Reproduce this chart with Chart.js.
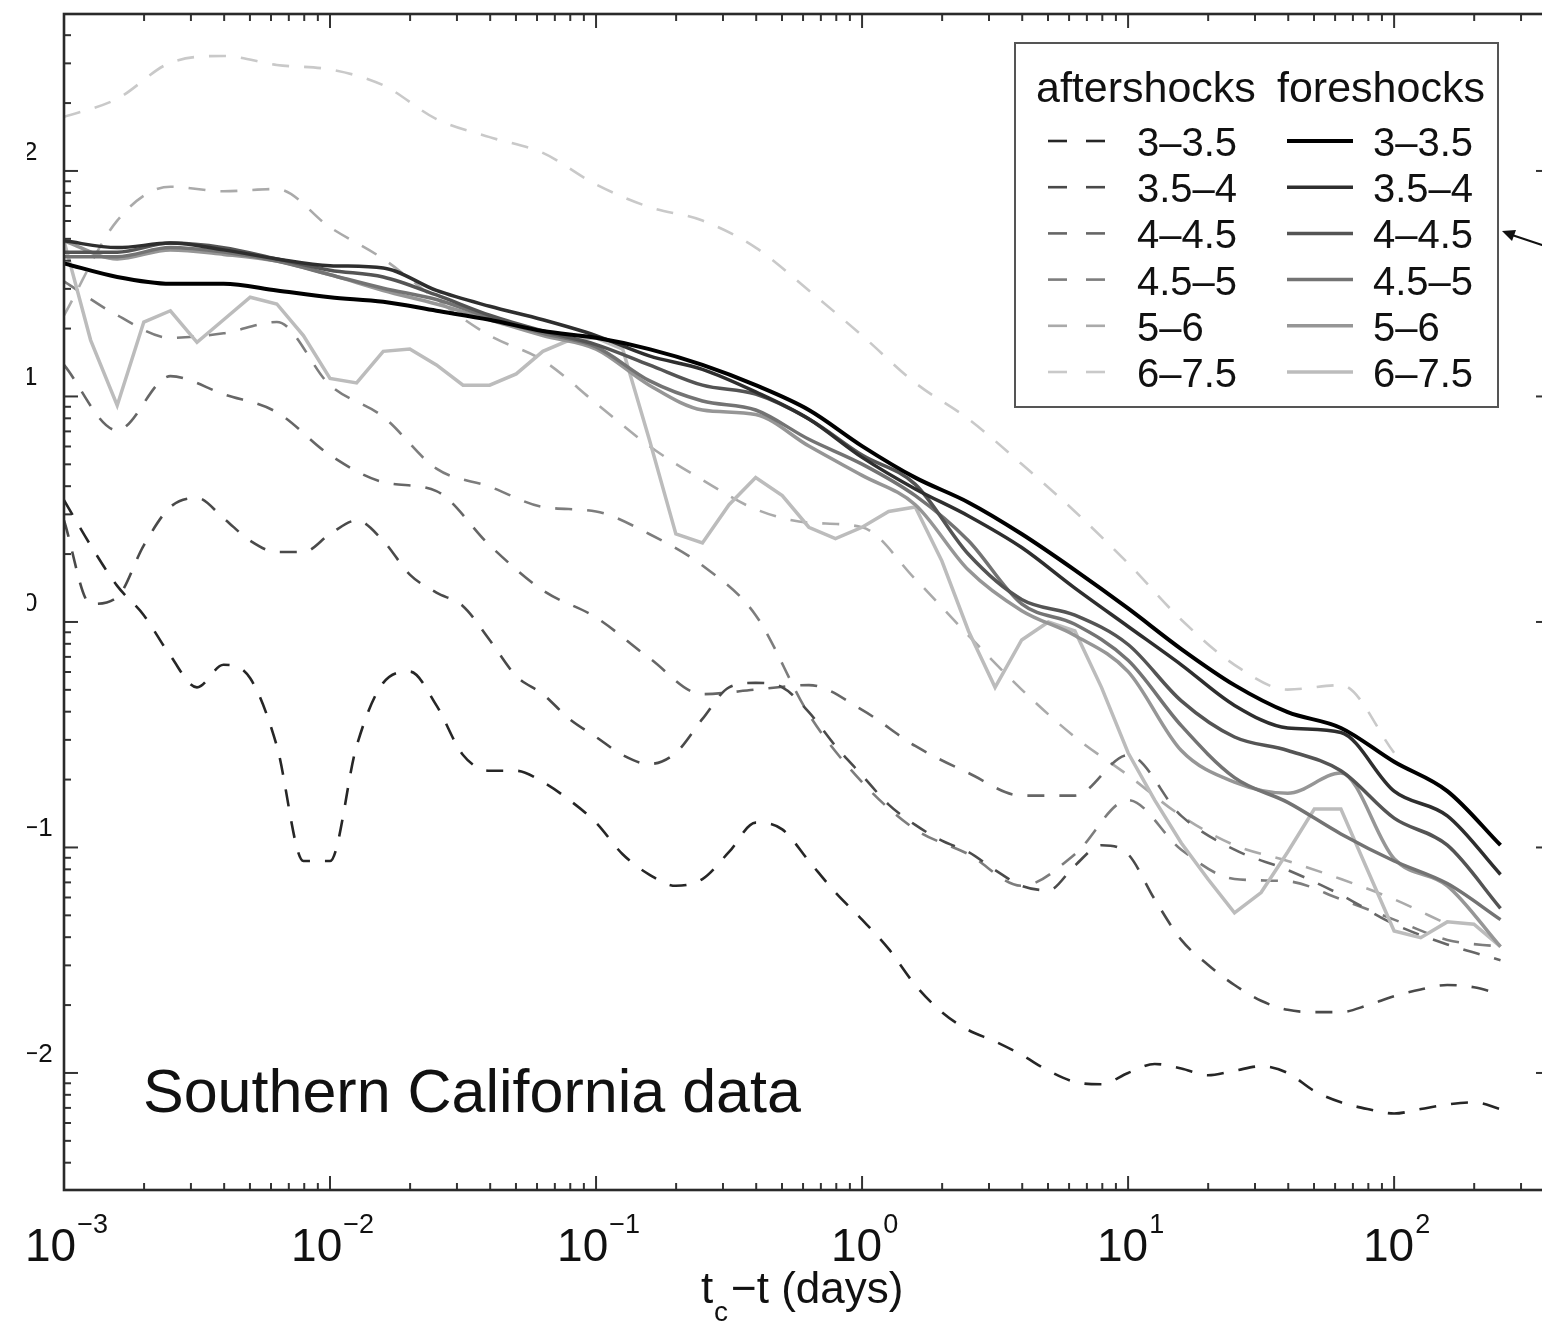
<!DOCTYPE html>
<html>
<head>
<meta charset="utf-8">
<script src="https://cdn.jsdelivr.net/npm/chart.js@4.4.1/dist/chart.umd.min.js"></script>
<style>
  html, body { margin: 0; padding: 0; background: #fff; overflow: hidden; }
  #wrap { width: 1556px; height: 1323px; }
</style>
</head>
<body>
<div id="wrap"><canvas id="c" width="1556" height="1323"></canvas></div>
<script>
// sample times, log10(tc - t in days)
const tLogFine = [-3.0,-2.9,-2.8,-2.7,-2.6,-2.5,-2.4,-2.3,-2.2,-2.1,-2.0,-1.9,-1.8,-1.7,-1.6,-1.5,-1.4,-1.3,-1.2,-1.1,
  -1.0,-0.9,-0.8,-0.7,-0.6,-0.5,-0.4,-0.3,-0.2,-0.1,0.0,0.1,0.2,0.3,0.4,0.5,0.6,0.7,0.8,0.9,
  1.0,1.1,1.2,1.3,1.4,1.5,1.6,1.7,1.8,1.9,2.0,2.1,2.2,2.3,2.4];
const tLogCoarse = [-3.0,-2.8,-2.6,-2.4,-2.2,-2.0,-1.8,-1.6,-1.4,-1.2,-1.0,-0.8,-0.6,-0.4,-0.2,
  0.0,0.2,0.4,0.6,0.8,1.0,1.2,1.4,1.6,1.8,2.0,2.2,2.4];

// rates, log10 — foreshocks (solid)
const fore_3_35  = [1.59,1.53,1.50,1.50,1.47,1.44,1.42,1.38,1.34,1.29,1.26,1.21,1.14,1.05,0.94,0.78,0.64,0.53,0.39,0.23,0.06,-0.12,-0.28,-0.40,-0.47,-0.62,-0.75,-0.99];
const fore_35_4  = [1.69,1.66,1.68,1.65,1.61,1.58,1.57,1.47,1.40,1.34,1.27,1.18,1.12,1.02,0.90,0.73,0.59,0.47,0.33,0.15,-0.02,-0.19,-0.37,-0.47,-0.49,-0.75,-0.86,-1.12];
const fore_4_45  = [1.64,1.64,1.68,1.66,1.61,1.56,1.53,1.45,1.36,1.29,1.23,1.14,1.05,1.01,0.90,0.74,0.61,0.30,0.10,0.03,-0.10,-0.35,-0.51,-0.57,-0.66,-0.87,-0.99,-1.27];
const fore_45_5  = [1.62,1.62,1.66,1.64,1.60,1.54,1.48,1.43,1.35,1.28,1.22,1.07,0.98,0.94,0.81,0.70,0.56,0.36,0.08,-0.01,-0.17,-0.46,-0.69,-0.80,-0.94,-1.06,-1.16,-1.32];
const fore_5_6   = [1.69,1.61,1.65,1.63,1.60,1.54,1.47,1.41,1.34,1.27,1.21,1.05,0.94,0.92,0.78,0.65,0.52,0.23,0.05,-0.06,-0.22,-0.57,-0.71,-0.76,-0.67,-1.05,-1.17,-1.44];
const fore_6_75  = [1.69,1.25,0.96,1.33,1.38,1.24,1.34,1.44,1.41,1.27,1.08,1.06,1.20,1.21,1.14,1.05,1.05,1.10,1.20,1.25,
  1.26,1.21,0.81,0.39,0.35,0.52,0.64,0.56,0.42,0.37,0.42,0.49,0.51,0.27,-0.04,-0.29,-0.08,0.00,-0.04,-0.29,
  -0.58,-0.79,-0.98,-1.14,-1.29,-1.20,-1.02,-0.83,-0.83,-1.10,-1.37,-1.40,-1.33,-1.34,-1.44];

// rates, log10 — aftershocks (dashed)
const after_3_35 = [0.54,0.34,0.16,0.03,-0.15,-0.29,-0.19,-0.25,-0.55,-1.06,-1.06,-0.55,-0.27,-0.22,-0.37,-0.59,-0.66,-0.66,-0.71,-0.79,
  -0.89,-1.03,-1.12,-1.17,-1.14,-1.02,-0.89,-0.92,-1.06,-1.20,-1.32,-1.45,-1.61,-1.73,-1.81,-1.86,-1.92,-1.99,-2.04,-2.05,
  -2.00,-1.96,-1.98,-2.01,-1.99,-1.97,-2.00,-2.08,-2.13,-2.16,-2.18,-2.16,-2.14,-2.13,-2.16];
const after_35_4 = [0.45,0.08,0.11,0.34,0.51,0.55,0.46,0.36,0.31,0.31,0.39,0.45,0.36,0.21,0.13,0.07,-0.08,-0.24,-0.32,-0.43,
  -0.51,-0.59,-0.63,-0.58,-0.43,-0.29,-0.27,-0.29,-0.40,-0.55,-0.68,-0.81,-0.90,-0.97,-1.02,-1.10,-1.17,-1.19,-1.08,-0.99,
  -1.03,-1.23,-1.41,-1.52,-1.61,-1.68,-1.72,-1.73,-1.73,-1.70,-1.66,-1.63,-1.61,-1.62,-1.65];
const after_4_45 = [1.14,0.85,1.09,1.01,0.93,0.74,0.62,0.58,0.34,0.14,0.02,-0.16,-0.32,-0.30,-0.28,-0.39,-0.55,-0.67,-0.77,-0.77,-0.59,-0.86,-1.01,-1.10,-1.21,-1.34,-1.43,-1.50];
const after_45_5 = [1.51,1.36,1.26,1.28,1.33,1.05,0.91,0.68,0.60,0.51,0.49,0.39,0.25,0.03,-0.41,-0.71,-0.92,-1.03,-1.17,-1.03,-0.79,-1.01,-1.14,-1.15,-1.23,-1.32,-1.41,-1.44];
const after_5_6  = [1.36,1.78,1.93,1.91,1.92,1.75,1.61,1.43,1.27,1.16,0.97,0.78,0.63,0.50,0.44,0.42,0.19,-0.06,-0.30,-0.51,-0.68,-0.86,-0.99,-1.06,-1.14,-1.23,-1.34];
const after_6_75 = [2.24,2.32,2.48,2.51,2.47,2.45,2.38,2.23,2.15,2.08,1.94,1.84,1.78,1.66,1.47,1.27,1.06,0.90,0.70,0.49,0.26,0.01,-0.19,-0.30,-0.28,-0.58];

const binLabels = ['3\u20133.5','3.5\u20134','4\u20134.5','4.5\u20135','5\u20136','6\u20137.5'];
const xTickExps = [-3,-2,-1,0,1,2];
const yTickExps = [2,1,0,-1,-2];

const FONT = '"Liberation Sans", Arial, Helvetica, sans-serif';
const foreColors  = ['#000000','#2e2e2e','#545454','#737373','#969696','#bcbcbc'];
const afterColors = ['#262626','#4a4a4a','#666666','#7d7d7d','#aaaaaa','#c9c9c9'];
const DASH = [17, 15];

function pts(grid, logs) {
  return logs.map((v, i) => ({ x: Math.pow(10, grid[i]), y: Math.pow(10, v) }));
}

const foreSeries  = [[tLogCoarse, fore_3_35], [tLogCoarse, fore_35_4], [tLogCoarse, fore_4_45],
                     [tLogCoarse, fore_45_5], [tLogCoarse, fore_5_6], [tLogFine, fore_6_75]];
const afterSeries = [[tLogFine, after_3_35], [tLogFine, after_35_4], [tLogCoarse, after_4_45],
                     [tLogCoarse, after_45_5], [tLogCoarse, after_5_6], [tLogCoarse, after_6_75]];

const datasets = [];
// solids first so they are painted on top
foreSeries.forEach((s, i) => datasets.push({
  label: 'fore ' + binLabels[i],
  data: pts(s[0], s[1]),
  borderColor: foreColors[i],
  borderWidth: i === 0 ? 4 : 3.5,
  tension: 0,
  cubicInterpolationMode: i === 5 ? 'default' : 'monotone',
  fill: false
}));
afterSeries.forEach((s, i) => datasets.push({
  label: 'after ' + binLabels[i],
  data: pts(s[0], s[1]),
  borderColor: afterColors[i],
  borderWidth: 2.6,
  borderDash: DASH,
  cubicInterpolationMode: 'monotone',
  fill: false
}));

function line(ctx, x1, y1, x2, y2) {
  ctx.beginPath(); ctx.moveTo(x1, y1); ctx.lineTo(x2, y2); ctx.stroke();
}

const decor = {
  id: 'decor',
  afterDraw(chart) {
    const { ctx, chartArea: a, scales: { x, y } } = chart;
    ctx.save();

    // inward ticks on all four sides
    ctx.strokeStyle = '#333';
    ctx.lineWidth = 2;
    for (let n = -4; n <= 3; n++) {
      for (let k = 1; k <= 9; k++) {
        const v = k * Math.pow(10, n);
        const len = k === 1 ? 14 : 7;
        if (v >= x.min && v <= x.max) {
          const px = x.getPixelForValue(v);
          line(ctx, px, a.top, px, a.top + len);
          line(ctx, px, a.bottom, px, a.bottom - len);
        }
        if (v >= y.min && v <= y.max) {
          const py = y.getPixelForValue(v);
          line(ctx, a.left, py, a.left + len, py);
          line(ctx, a.right, py, a.right - len, py);
        }
      }
    }
    ctx.lineWidth = 2.6;
    ctx.strokeStyle = '#2a2a2a';
    ctx.strokeRect(a.left, a.top, a.right - a.left, a.bottom - a.top);

    // x tick labels 10^n
    ctx.fillStyle = '#111';
    ctx.textBaseline = 'alphabetic';
    ctx.textAlign = 'left';
    xTickExps.forEach(e => {
      const px = x.getPixelForValue(Math.pow(10, e));
      const ex = e < 0 ? '\u2212' + (-e) : String(e);
      ctx.font = '46px ' + FONT;
      const w1 = ctx.measureText('10').width;
      ctx.font = '27px ' + FONT;
      const w2 = ctx.measureText(ex).width;
      const x0 = px - (w1 + w2) / 2 + 2;
      ctx.font = '46px ' + FONT;
      ctx.fillText('10', x0, 1261);
      ctx.font = '27px ' + FONT;
      ctx.fillText(ex, x0 + w1 + 1, 1233);
    });

    // y tick labels: only the exponents are left inside the cropped page
    ctx.save();
    ctx.beginPath();
    ctx.rect(27, 0, 40, 1323);
    ctx.clip();
    ctx.font = '26px ' + FONT;
    yTickExps.forEach(e => {
      const py = y.getPixelForValue(Math.pow(10, e));
      const ex = e < 0 ? '\u2212' + (-e) : String(e);
      ctx.fillText(ex, 23, py - 11);
    });
    ctx.restore();

    // x axis title  t_c − t (days)
    ctx.font = '44px ' + FONT;
    ctx.fillText('t', 701, 1303);
    ctx.font = '28px ' + FONT;
    ctx.fillText('c', 714, 1321);
    ctx.font = '44px ' + FONT;
    ctx.fillText('\u2212t (days)', 731, 1303);

    // annotation
    ctx.font = '61px ' + FONT;
    ctx.fillText('Southern California data', 143, 1112);

    // legend
    const L = { x: 1015, y: 43, w: 483, h: 364 };
    ctx.fillStyle = '#fff';
    ctx.fillRect(L.x, L.y, L.w, L.h);
    ctx.strokeStyle = '#555';
    ctx.lineWidth = 2;
    ctx.strokeRect(L.x, L.y, L.w, L.h);
    ctx.fillStyle = '#111';
    ctx.font = '43px ' + FONT;
    ctx.fillText('aftershocks', 1036, 102);
    ctx.fillText('foreshocks', 1277, 102);
    ctx.font = '40px ' + FONT;
    binLabels.forEach((lab, i) => {
      const cy = 141 + i * 46.2;
      ctx.strokeStyle = afterColors[i];
      ctx.lineWidth = 2.6;
      ctx.setLineDash([19, 19]);
      line(ctx, 1048, cy, 1108, cy);
      ctx.setLineDash([]);
      ctx.strokeStyle = foreColors[i];
      ctx.lineWidth = i === 0 ? 4 : 3.5;
      line(ctx, 1287, cy, 1353, cy);
      ctx.fillStyle = '#111';
      ctx.fillText(lab, 1137, cy + 15);
      ctx.fillText(lab, 1373, cy + 15);
    });

    // arrow pointing at the legend from the right
    ctx.strokeStyle = '#111';
    ctx.fillStyle = '#111';
    ctx.lineWidth = 2;
    line(ctx, 1545, 246, 1512, 235);
    ctx.beginPath();
    ctx.moveTo(1502, 231);
    ctx.lineTo(1516, 230);
    ctx.lineTo(1512, 241);
    ctx.closePath();
    ctx.fill();

    ctx.restore();
  }
};

new Chart(document.getElementById('c'), {
  type: 'line',
  data: { datasets },
  options: {
    responsive: false,
    animation: false,
    devicePixelRatio: 1,
    layout: { padding: { left: 64, top: 14, right: 6, bottom: 133 } },
    elements: { point: { radius: 0 } },
    plugins: { legend: { display: false }, tooltip: { enabled: false } },
    scales: {
      x: { type: 'logarithmic', display: false, bounds: 'data', min: Math.pow(10, -3), max: Math.pow(10, 2.586) },
      y: { type: 'logarithmic', display: false, bounds: 'data', min: Math.pow(10, -2.519), max: Math.pow(10, 2.696) }
    }
  },
  plugins: [decor]
});
</script>
</body>
</html>
